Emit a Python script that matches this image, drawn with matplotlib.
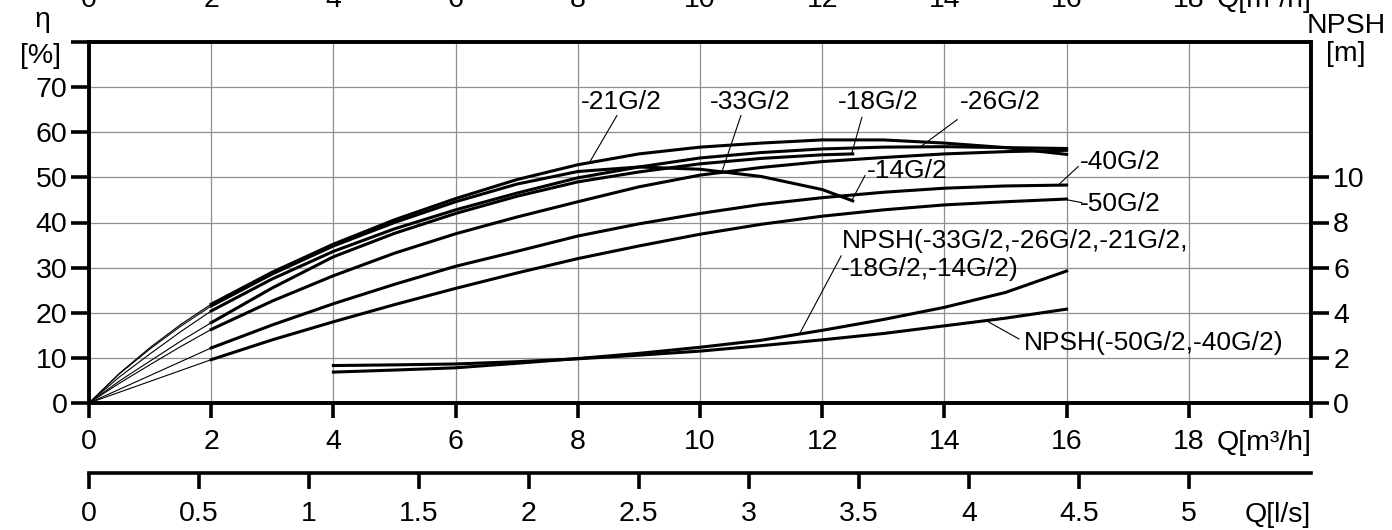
import numpy as np
import matplotlib
matplotlib.use("Agg")
import matplotlib.pyplot as plt
import matplotlib.transforms as mtransforms

plt.rcParams['font.family'] = ['Liberation Sans', 'DejaVu Sans']

######### DATA #########
# flow Q in m3/h
q_full = [2, 3, 4, 5, 6, 7, 8, 9, 10, 11, 12, 13, 14, 15, 16]
q_short = [2, 3, 4, 5, 6, 7, 8, 9, 10, 11, 12, 12.5]
q_thin = [0, 0.5, 1, 1.5, 2]

# efficiency eta [%]
eta_21 = [21.9, 29.0, 35.2, 40.6, 45.3, 49.5, 52.8, 55.2, 56.7, 57.6, 58.3, 58.3, 57.6, 56.6, 55.1]
eta_26 = [20.4, 27.5, 33.6, 38.6, 42.8, 46.5, 49.9, 52.3, 54.3, 55.5, 56.3, 56.7, 56.8, 56.6, 56.4]
eta_33 = [16.3, 22.6, 28.2, 33.2, 37.5, 41.2, 44.6, 47.9, 50.5, 52.2, 53.5, 54.4, 55.2, 55.7, 56.0]
eta_40 = [12.2, 17.3, 22.0, 26.3, 30.3, 33.6, 37.0, 39.7, 42.0, 44.0, 45.5, 46.7, 47.6, 48.1, 48.3]
eta_50 = [9.6, 14.0, 18.0, 21.8, 25.4, 28.8, 32.0, 34.8, 37.4, 39.6, 41.4, 42.8, 43.9, 44.6, 45.2]
eta_14 = [21.5, 28.6, 34.8, 40.0, 44.6, 48.5, 51.3, 52.3, 51.8, 50.2, 47.3, 44.8]
eta_18 = [17.8, 25.5, 32.4, 37.6, 42.0, 45.8, 49.0, 51.2, 53.0, 54.2, 55.0, 55.2]

# thin lead-in from origin (Q = 0, 0.5, 1, 1.5, 2)
thin_21 = [0, 6.6, 12.3, 17.4, 21.9]
thin_14 = [0, 6.5, 12.0, 17.0, 21.5]
thin_26 = [0, 5.8, 10.9, 15.8, 20.4]
thin_18 = [0, 4.9, 9.3, 13.7, 17.8]
thin_33 = [0, 4.4, 8.5, 12.5, 16.3]
thin_40 = [0, 3.05, 6.1, 9.15, 12.2]
thin_50 = [0, 2.4, 4.8, 7.2, 9.6]

# NPSH [m]
q_npsh = [4, 5, 6, 7, 8, 9, 10, 11, 12, 13, 14, 15, 16]
npsh_a = [1.37, 1.46, 1.56, 1.76, 1.97, 2.2, 2.47, 2.78, 3.22, 3.7, 4.24, 4.9, 5.85]
npsh_b = [1.66, 1.69, 1.73, 1.83, 1.96, 2.12, 2.3, 2.54, 2.8, 3.08, 3.42, 3.76, 4.16]

q_ticks = [0, 2, 4, 6, 8, 10, 12, 14, 16, 18, 20]
q_labels = ['0', '2', '4', '6', '8', '10', '12', '14', '16', '18', '']
eta_ticks = [0, 10, 20, 30, 40, 50, 60, 70, 80]
eta_labels = ['0', '10', '20', '30', '40', '50', '60', '70', '']
npsh_ticks = [0, 2, 4, 6, 8, 10]
ls_ticks = [0, 0.5, 1, 1.5, 2, 2.5, 3, 3.5, 4, 4.5, 5]
ls_labels = ['0', '0.5', '1', '1.5', '2', '2.5', '3', '3.5', '4', '4.5', '5']

######### FIGURA #########
W, H = 1392, 530
fig = plt.figure(figsize=(W / 100, H / 100), dpi=100)

L = 89 / W
R = 1311 / W
B = 1 - 403 / H
T = 1 - 42 / H
ax = fig.add_axes([L, B, R - L, T - B])
ax.set_xlim(0, 20)
ax.set_ylim(0, 80)

fs = 20.5
lw_sp = 2.6
ax.set_xticks(q_ticks)
ax.set_xticklabels(q_labels, fontsize=fs)
ax.set_yticks(eta_ticks)
ax.set_yticklabels(eta_labels, fontsize=fs)
ax.tick_params(axis='x', direction='out', length=10.5, width=lw_sp, pad=8.5)
ax.tick_params(axis='y', direction='out', length=13, width=lw_sp, pad=2.5)
ax.grid(True, color='#8f8f8f', linewidth=0.9)
ax.set_axisbelow(True)
for s in ax.spines.values():
    s.set_linewidth(lw_sp)

ax2 = ax.twinx()
ax2.set_ylim(0, 16)
ax2.set_yticks(npsh_ticks)
ax2.set_yticklabels([str(v) for v in npsh_ticks], fontsize=fs)
ax2.tick_params(axis='y', direction='out', length=13, width=lw_sp, pad=3)
for s in ax2.spines.values():
    s.set_linewidth(lw_sp)

# curve di rendimento
lw = 2.2
thin = 0.8
curves = [(q_full, eta_21, thin_21), (q_short, eta_14, thin_14), (q_full, eta_26, thin_26),
          (q_short, eta_18, thin_18), (q_full, eta_33, thin_33), (q_full, eta_40, thin_40),
          (q_full, eta_50, thin_50)]
for qq, ee, tt in curves:
    ax.plot(q_thin, tt, color='k', linewidth=thin)
    ax.plot(qq, ee, color='k', linewidth=lw, solid_joinstyle='round')

# NPSH
ax2.plot(q_npsh, npsh_a, color='k', linewidth=lw)
ax2.plot(q_npsh, npsh_b, color='k', linewidth=lw)

# etichette
tfs = 19
def label(txt, xy_text, xy_from, xy_to, ha='center'):
    ax.text(xy_text[0], xy_text[1], txt, fontsize=tfs, ha=ha, va='center')
    ax.plot([xy_from[0], xy_to[0]], [xy_from[1], xy_to[1]], color='k', linewidth=0.8)

label('-21G/2', (8.71, 66.8), (8.64, 63.7), (8.2, 53.5))
label('-33G/2', (10.82, 66.8), (10.67, 63.7), (10.36, 51.3))
label('-18G/2', (12.91, 66.8), (12.65, 63.3), (12.48, 55.2))
label('-26G/2', (14.91, 66.8), (14.21, 62.8), (13.63, 57.0))
label('-14G/2', (12.73, 51.5), (12.70, 50.4), (12.48, 44.8), ha='left')
label('-40G/2', (16.22, 53.3), (16.19, 52.4), (15.88, 48.5), ha='left')
label('-50G/2', (16.22, 44.1), (16.02, 45.0), (16.25, 44.4), ha='left')
label('NPSH(-33G/2,-26G/2,-21G/2,', (12.33, 35.9), (12.31, 32.6), (11.64, 15.6), ha='left')
ax.text(12.3, 29.7, '-18G/2,-14G/2)', fontsize=tfs, ha='left', va='center')
label('NPSH(-50G/2,-40G/2)', (15.3, 13.3), (14.69, 18.2), (15.22, 14.2), ha='left')

# testi assi
fig.text(42 / W, 1 - 20 / H, 'η', fontsize=fs, ha='center', va='center')
fig.text(41 / W, 1 - 56 / H, '[%]', fontsize=fs, ha='center', va='center')
fig.text(1346 / W, 1 - 26 / H, 'NPSH', fontsize=fs, ha='center', va='center')
fig.text(1346 / W, 1 - 54 / H, '[m]', fontsize=fs, ha='center', va='center')

trx = mtransforms.blended_transform_factory(ax.transData, ax.transAxes)
ax.text(20, -(450 - 403) / (403 - 42), 'Q[m³/h]', fontsize=fs, ha='right', va='baseline',
        transform=trx, clip_on=False)

# riga tagliata in alto (grafico precedente)
trf = mtransforms.blended_transform_factory(ax.transData, fig.transFigure)
for v, t in zip(q_ticks[:-1], q_labels[:-1]):
    fig.text(v, 1 - 7 / H, t, fontsize=fs, ha='center', va='baseline', transform=trf)
fig.text(20, 1 - 7 / H, 'Q[m³/h]', fontsize=fs, ha='right', va='baseline', transform=trf)

# asse Q [l/s]
ax3 = fig.add_axes([L, 1 - 473 / H, R - L, 0.0001])
ax3.set_xlim(0, 20 / 3.6)
ax3.set_ylim(0, 1)
ax3.patch.set_visible(False)
for k in ['top', 'left', 'right']:
    ax3.spines[k].set_visible(False)
ax3.spines['bottom'].set_linewidth(lw_sp)
ax3.set_yticks([])
ax3.set_xticks(ls_ticks)
ax3.set_xticklabels(ls_labels, fontsize=fs)
ax3.tick_params(axis='x', direction='out', length=11.5, width=lw_sp, pad=9)
fig.text(R, 1 - 522 / H, 'Q[l/s]', fontsize=fs, ha='right', va='baseline')

plt.savefig('out.png', dpi=100)
